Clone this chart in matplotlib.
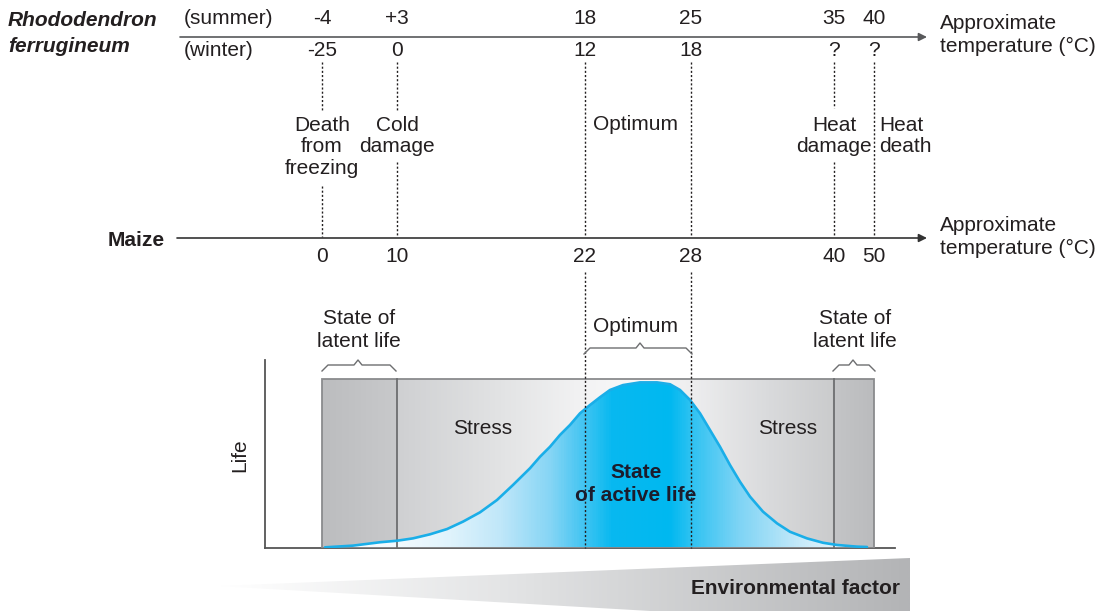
import numpy as np
import matplotlib
matplotlib.use("Agg")
import matplotlib.pyplot as plt
from matplotlib.colors import LinearSegmentedColormap
from matplotlib.patches import Polygon, Rectangle

plt.rcParams['font.family'] = ['Liberation Sans', 'DejaVu Sans']

# temperature thresholds (labels) for each marker
summer_temps = ["-4", "+3", "18", "25", "35", "40"]
winter_temps = ["-25", "0", "12", "18", "?", "?"]
maize_temps = ["0", "10", "22", "28", "40", "50"]

# life curve (x = horizontal position, life in % of the box height)
curve_x = [325, 353, 380, 397, 413, 430, 447, 463, 480, 497, 513, 530, 540, 550, 560,
           570, 580, 590, 600, 610, 623, 640, 657, 670, 680, 690, 700, 710, 720, 730,
           740, 750, 763, 777, 790, 807, 823, 837, 857, 867]
curve_life = [0.4, 1.4, 3.4, 4.3, 5.7, 8.1, 11.2, 15.6, 21.1, 28.4, 37.3, 47.2, 54.0, 59.9, 66.9,
              72.8, 79.7, 84.6, 89.2, 93.5, 96.4, 98.0, 98.0, 96.9, 93.5, 87.6, 79.7, 69.8, 59.9, 49.1,
              39.2, 30.4, 21.5, 14.6, 9.6, 5.7, 3.1, 1.8, 0.8, 0.6]

# layout
marker_x = [322, 397, 585, 691, 834, 874]
TXT = '#231f20'
FS = 15

fig = plt.figure(figsize=(11.04, 6.11), dpi=100)

# ---- lower panel (life vs environmental factor) ----
pa = fig.add_axes([265 / 1104, 63 / 611, 630 / 1104, 188 / 611])
pa.set_xlim(265, 895)
pa.set_ylim(0, 188 / 169 * 100)
for s in ['top', 'right']:
    pa.spines[s].set_visible(False)
for s in ['left', 'bottom']:
    pa.spines[s].set_color('#555555')
    pa.spines[s].set_linewidth(1.3)
pa.set_xticks([])
pa.set_yticks([])
pa.patch.set_alpha(0)


def hgrad(stops, x0, x1):
    cm = LinearSegmentedColormap.from_list('g', [((x - x0) / (x1 - x0), c) for x, c in stops])
    return cm(np.linspace(0, 1, 600))[None, :, :3]


bg_stops = [(322, '#bcbdbf'), (396, '#c8c9cb'), (397, '#cfd0d2'), (500, '#e2e3e4'),
            (585, '#f3f3f4'), (640, '#f8f8f8'), (691, '#eeeeef'), (770, '#d9dadc'),
            (833, '#cbcccd'), (834, '#c4c5c7'), (874, '#bbbcbe')]
pa.imshow(hgrad(bg_stops, 322, 874), extent=[322, 874, 0, 100], aspect='auto', zorder=1)

blue_stops = [(322, '#ffffff'), (400, '#f2fafe'), (450, '#dff3fc'), (500, '#c0e7f9'),
              (550, '#86d5f5'), (585, '#3fc4f2'), (612, '#08b9f0'), (670, '#00b8f0'),
              (692, '#2ec2f2'), (740, '#7ed4f5'), (800, '#c4e9f9'), (840, '#e8f6fd'),
              (874, '#ffffff')]
im = pa.imshow(hgrad(blue_stops, 322, 874), extent=[322, 874, 0, 100], aspect='auto', zorder=2)
verts = np.column_stack([curve_x + curve_x[::-1], curve_life + [0] * len(curve_x)])
fill = Polygon(verts, closed=True, facecolor='none', edgecolor='none')
pa.add_patch(fill)
im.set_clip_path(fill)

pa.add_patch(Rectangle((322, 0), 552, 100, facecolor='none', edgecolor='#8a8b8d', lw=1.3, zorder=3))
pa.plot([397, 397], [0, 100], color='#6d6e70', lw=1.3, zorder=3)
pa.plot([834, 834], [0, 100], color='#6d6e70', lw=1.3, zorder=3)
pa.plot(curve_x, curve_life, color='#1aaee8', lw=1.9, zorder=4,
        solid_capstyle='round', solid_joinstyle='round')

# ---- overlay in pixel coordinates ----
ax = fig.add_axes([0, 0, 1, 1])
ax.set_zorder(3)
ax.patch.set_alpha(0)
ax.set_xlim(0, 1104)
ax.set_ylim(611, 0)
ax.axis('off')

# axes with arrows
ax.annotate('', xy=(927, 37), xytext=(180, 37),
            arrowprops=dict(arrowstyle='-|>', color='#58595b', lw=1.2, mutation_scale=12,
                            shrinkA=0, shrinkB=0))
ax.annotate('', xy=(927, 238), xytext=(177, 238),
            arrowprops=dict(arrowstyle='-|>', color='#333333', lw=1.2, mutation_scale=12,
                            shrinkA=0, shrinkB=0))

ax.text(8, 20, 'Rhododendron', fontsize=FS, fontweight='bold', style='italic', color=TXT, va='center')
ax.text(8, 46, 'ferrugineum', fontsize=FS, fontweight='bold', style='italic', color=TXT, va='center')
ax.text(184, 18, '(summer)', fontsize=FS, color=TXT, va='center')
ax.text(184, 50, '(winter)', fontsize=FS, color=TXT, va='center')
ax.text(165, 240, 'Maize', fontsize=FS, fontweight='bold', color=TXT, va='center', ha='right')
for y in (35, 237):
    ax.text(940, y, 'Approximate\ntemperature (°C)', fontsize=FS, color=TXT, va='center',
            linespacing=1.3)

for x, s, w, m in zip(marker_x, summer_temps, winter_temps, maize_temps):
    ax.text(x, 18, s, fontsize=FS, color=TXT, ha='center', va='center')
    ax.text(x, 50, w, fontsize=FS, color=TXT, ha='center', va='center')
    ax.text(x, 256, m, fontsize=FS, color=TXT, ha='center', va='center')

# dotted connectors between the two temperature scales
dot = dict(color=TXT, lw=1.0, linestyle=(0, (1.5, 1.5)))
segments = [
    (322, [(62, 110), (186, 237)]),
    (397, [(62, 110), (162, 237)]),
    (585, [(62, 237), (272, 548)]),
    (691, [(62, 237), (272, 548)]),
    (834, [(62, 108), (162, 237)]),
    (874, [(62, 237)]),
]
for x, segs in segments:
    for y0, y1 in segs:
        ax.plot([x, x], [y0, y1], **dot)

ax.text(322, 147, 'Death\nfrom\nfreezing', fontsize=FS, color=TXT, ha='center', va='center', linespacing=1.18)
ax.text(397, 136, 'Cold\ndamage', fontsize=FS, color=TXT, ha='center', va='center', linespacing=1.18)
ax.text(636, 125, 'Optimum', fontsize=FS, color=TXT, ha='center', va='center')
ax.text(834, 136, 'Heat\ndamage', fontsize=FS, color=TXT, ha='center', va='center', linespacing=1.18)
ax.text(879, 136, 'Heat\ndeath', fontsize=FS, color=TXT, ha='left', va='center', linespacing=1.18)


# braces
def brace(x0, x1, y, peak_x):
    xs = [x0, x0 + 6, peak_x - 4, peak_x, peak_x + 4, x1 - 6, x1]
    ys = [y + 6, y, y, y - 5, y, y, y + 6]
    ax.plot(xs, ys, color='#6d6e70', lw=1.0)


brace(322, 396, 365, 358)
brace(584, 692, 348, 640)
brace(833, 875, 365, 853)

ax.text(359, 330, 'State of\nlatent life', fontsize=FS, color=TXT, ha='center', va='center', linespacing=1.22)
ax.text(855, 330, 'State of\nlatent life', fontsize=FS, color=TXT, ha='center', va='center', linespacing=1.22)
ax.text(636, 326, 'Optimum', fontsize=FS, color=TXT, ha='center', va='center')

ax.text(483, 428, 'Stress', fontsize=FS, color=TXT, ha='center', va='center')
ax.text(788, 428, 'Stress', fontsize=FS, color=TXT, ha='center', va='center')
ax.text(636, 484, 'State\nof active life', fontsize=FS, color='#1c1c2c', fontweight='bold',
        ha='center', va='center', linespacing=1.22)
ax.text(240, 455, 'Life', fontsize=FS, color=TXT, ha='center', va='center', rotation=90)

# environmental factor wedge
wedge = Polygon([(218, 586), (910, 558), (910, 626)], closed=True, facecolor='none', edgecolor='none')
ax.add_patch(wedge)
wedge_stops = [(218, '#ffffff'), (500, '#e4e5e6'), (910, '#b3b4b6')]
wim = ax.imshow(hgrad(wedge_stops, 218, 910), extent=[218, 910, 626, 558], aspect='auto', zorder=1)
wim.set_clip_path(wedge)
ax.set_xlim(0, 1104)
ax.set_ylim(611, 0)
ax.text(900, 588, 'Environmental factor', fontsize=FS, fontweight='bold', color=TXT,
        ha='right', va='center', zorder=5)

fig.savefig('out.png', dpi=100)
